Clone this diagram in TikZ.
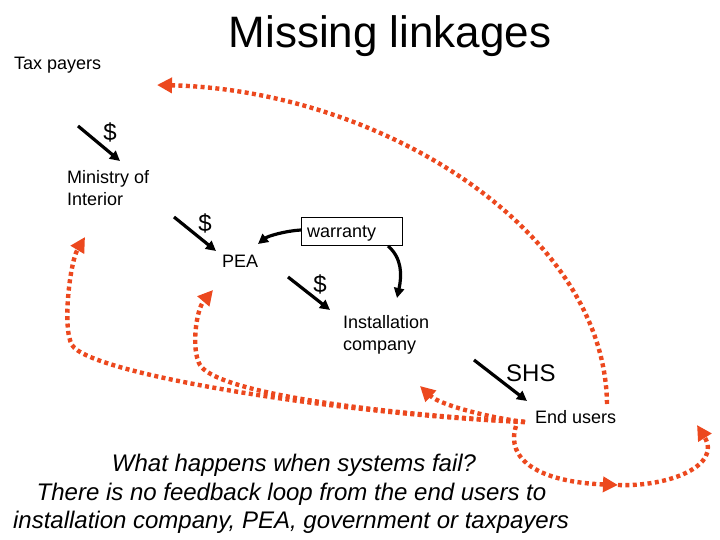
\documentclass[tikz,border=0pt]{standalone}
\usepackage{fontspec}
\setmainfont{Liberation Sans}
\usetikzlibrary{arrows.meta}
\definecolor{fbred}{RGB}{236,72,30}
\tikzset{
  lbl/.style={inner sep=0pt, anchor=base west, font=\fontsize{18}{21.6}\selectfont},
  money/.style={inner sep=0pt, anchor=base, font=\fontsize{24}{28}\selectfont},
  flow/.style={draw=black, line width=3.2pt, -{Triangle[length=10pt,width=10pt]}},
  fb/.style={draw=fbred, line width=4.4pt, dash pattern=on 4pt off 3.4pt, -{Triangle[length=15pt,width=15pt]}},
  q/.style={inner sep=0pt, anchor=base, font=\fontsize{24}{29}\selectfont\itshape}
}
\begin{document}
\begin{tikzpicture}[x=1pt,y=-1pt]
\useasboundingbox (0,0) rectangle (720,540);
% texts
\node[inner sep=0pt, anchor=base, font=\fontsize{44}{50}\selectfont] (title) at (390,48) {Missing linkages};
\node[lbl] (tax) at (14,70) {Tax payers};
\node[lbl] (min1) at (67,183.5) {Ministry of};
\node[lbl] (min2) at (67,205.5) {Interior};
\node[lbl] (pea) at (222,267.5) {PEA};
\node[lbl] (inst1) at (343,328) {Installation};
\node[lbl] (inst2) at (343,350) {company};
\node[lbl] (end) at (535,423) {End users};
\node[inner sep=0pt, anchor=base west, font=\fontsize{24}{28}\selectfont] (shs) at (506,381) {SHS};
\node[money] (d1) at (110,141) {\$};
\node[money] (d2) at (205,232) {\$};
\node[money] (d3) at (320,292) {\$};
\node[draw=black, line width=0.8pt, minimum width=101pt, minimum height=28pt, inner sep=0pt] (war) at (351.5,231) {};
\node[lbl] (wart) at (307,237) {warranty};
\node[q] (q1) at (294,471) {What happens when systems fail?};
\node[q] (q2) at (291.5,500) {There is no feedback loop from the end users to};
\node[q] (q3) at (291,528) {installation company, PEA, government or taxpayers};
% coordinates
\coordinate (a1s) at (78,126);  \coordinate (a1e) at (120,161);
\coordinate (a2s) at (174,217); \coordinate (a2e) at (216,251);
\coordinate (a3s) at (288,277); \coordinate (a3e) at (330,310);
\coordinate (a4s) at (474,360); \coordinate (a4e) at (527,401);
\coordinate (w1s) at (301,230); \coordinate (w1e) at (258,244);
\coordinate (w2s) at (388,246); \coordinate (w2e) at (397,298);
\coordinate (eu) at (525,422);
\coordinate (eu2) at (516,426);
\coordinate (tTax) at (157,85);
\coordinate (tMin) at (85,237);
\coordinate (tPea) at (213,290);
\coordinate (tIns) at (420,386);
\coordinate (mid) at (618,485);
\coordinate (tOut) at (697,425);
\coordinate (bigs) at (607,404);
% black arrows
\draw[flow] (a1s) -- (a1e);
\draw[flow] (a2s) -- (a2e);
\draw[flow] (a3s) -- (a3e);
\draw[flow] (a4s) -- (a4e);
\draw[flow] (w1s) .. controls (285,231) and (268,236) .. (w1e);
\draw[flow] (w2s) .. controls (402,258) and (402,275) .. (w2e);
% feedback arcs
\draw[fb] (bigs) .. controls (605,230) and (380,90) .. (tTax);
\draw[fb] (eu) .. controls (350,415) and (90,375) .. (72,345) .. controls (62,328) and (70,262) .. (tMin);
\draw[fb] (eu) .. controls (350,412) and (215,390) .. (200,365) .. controls (191,350) and (196,310) .. (tPea);
\draw[fb] (eu) .. controls (490,418) and (440,405) .. (tIns);
\draw[fb] (eu2) .. controls (505,460) and (540,482) .. (mid);
\draw[fb] (mid) .. controls (670,487) and (722,465) .. (tOut);
\end{tikzpicture}
\end{document}
